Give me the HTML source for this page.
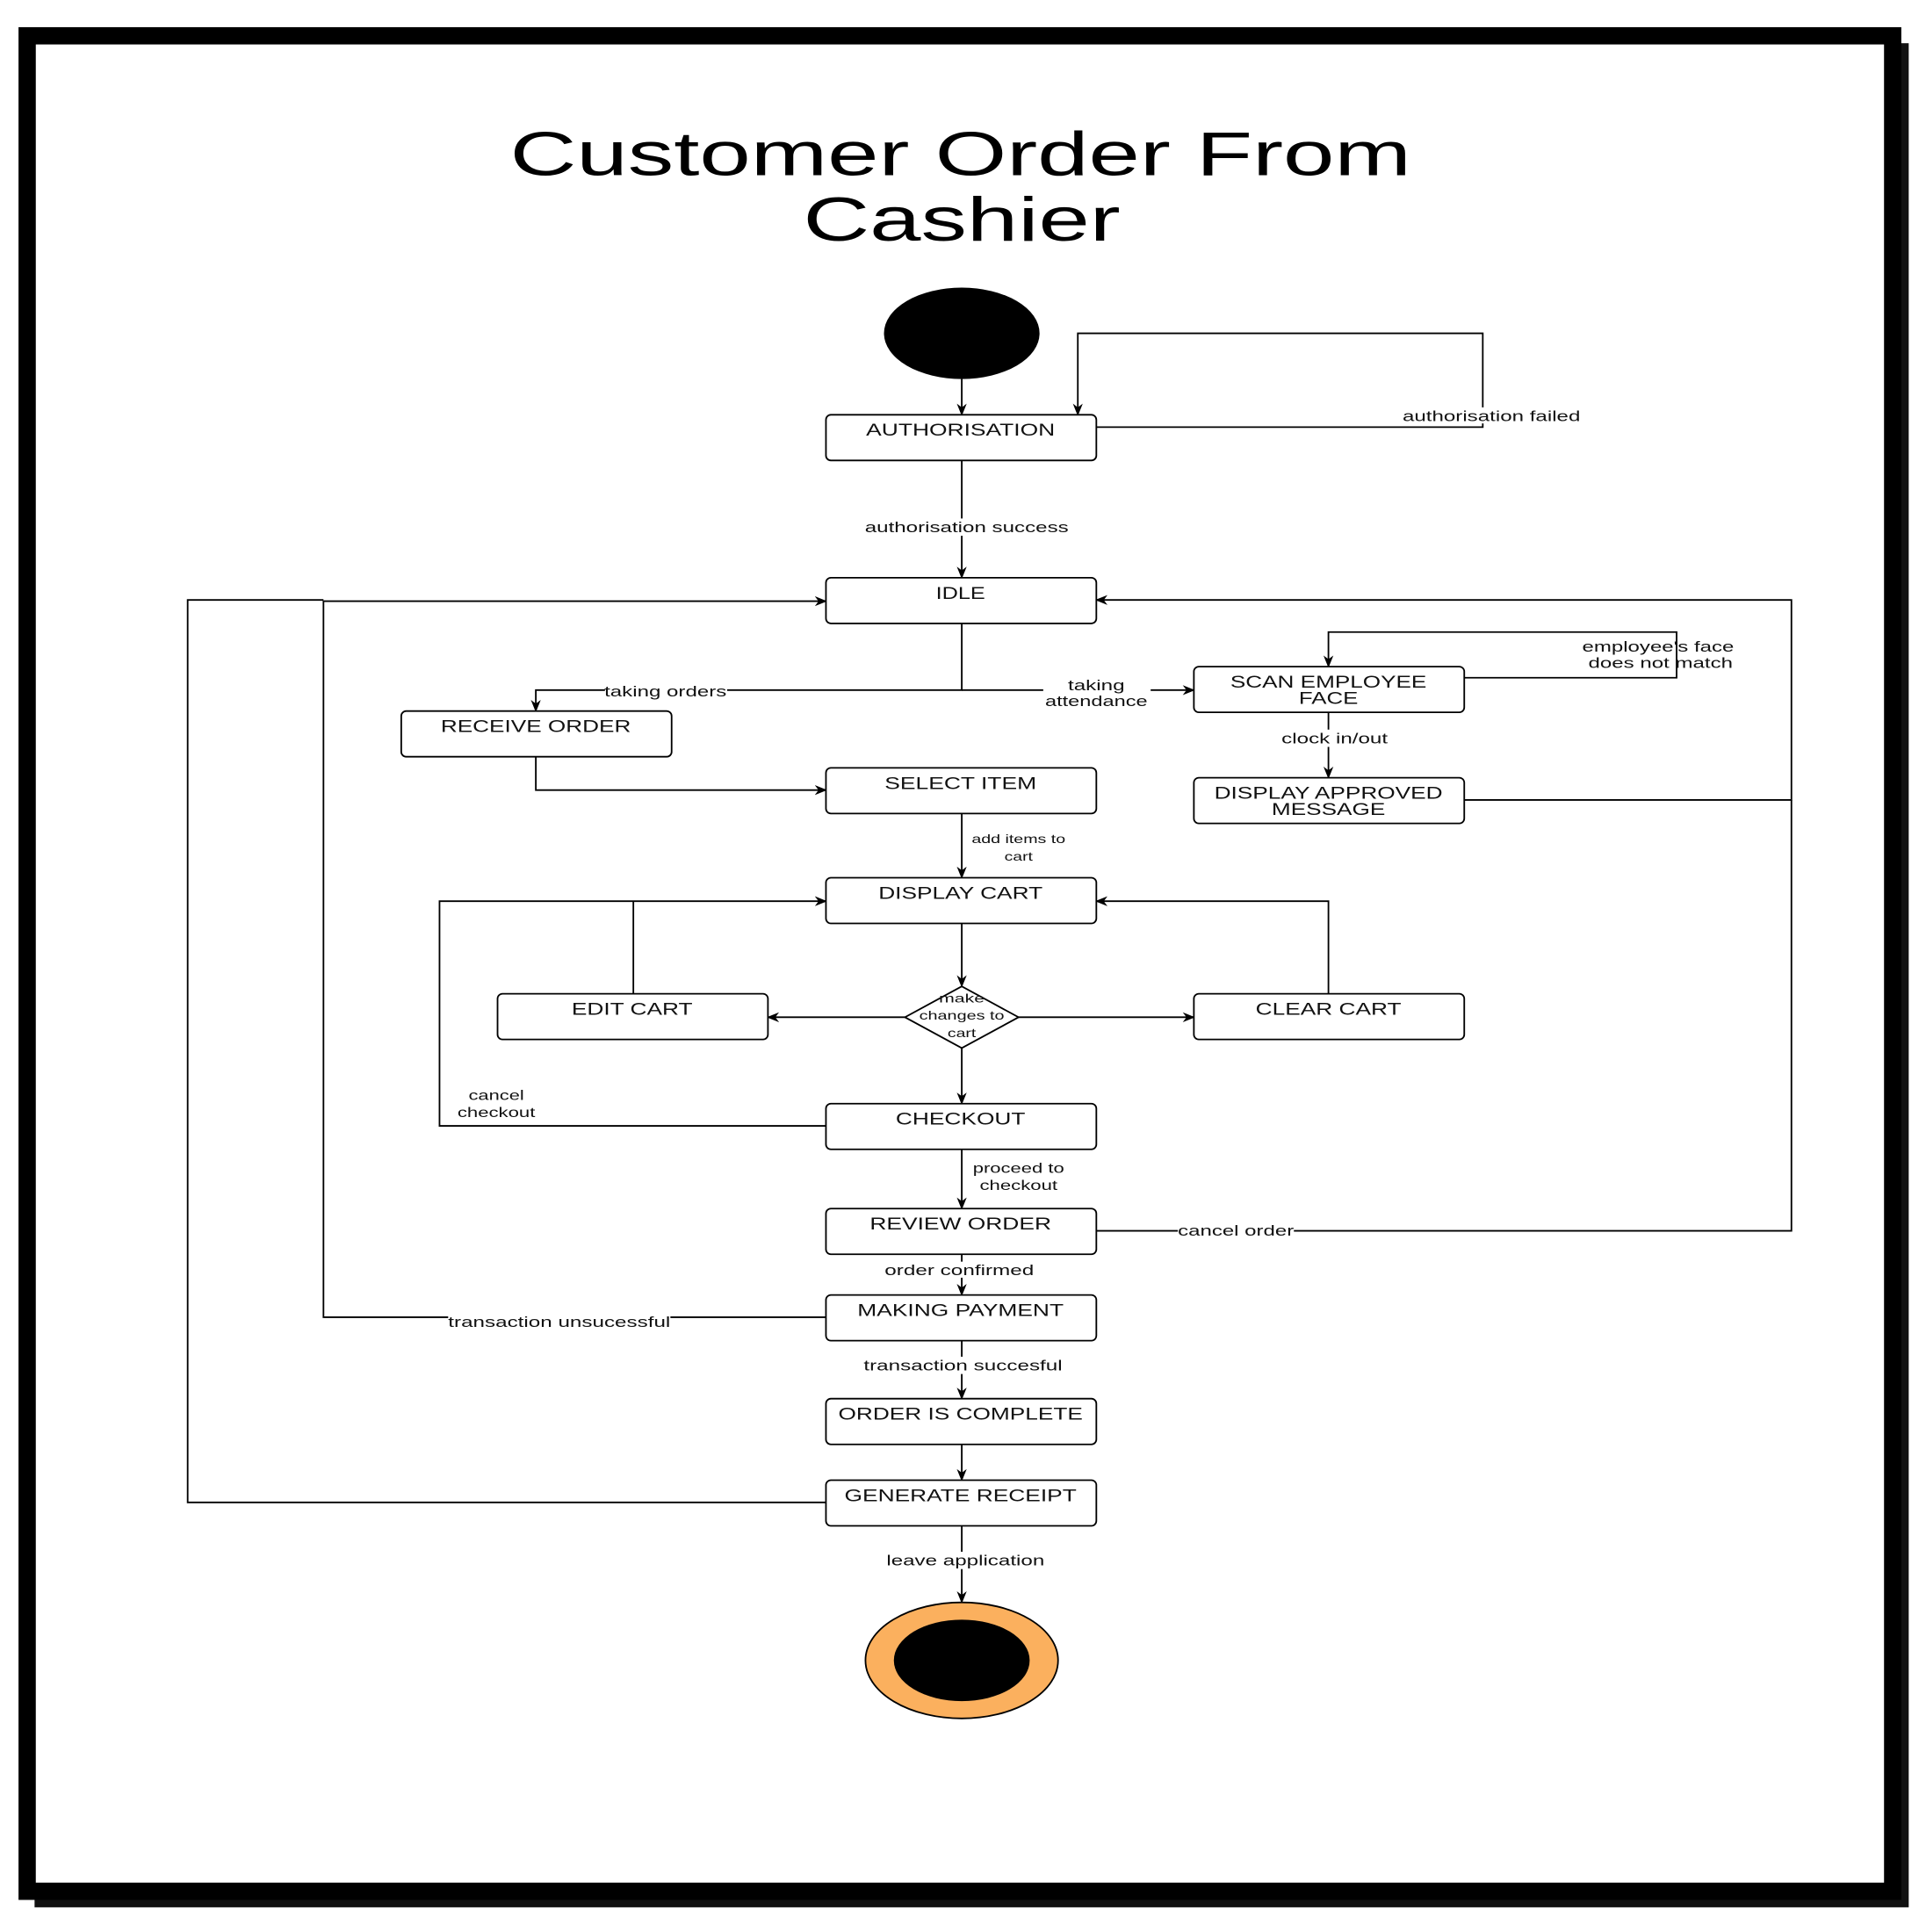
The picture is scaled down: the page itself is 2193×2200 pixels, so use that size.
<!DOCTYPE html>
<html><head><meta charset="utf-8"><style>html,body{margin:0;padding:0;background:#fff}svg{display:block}</style></head>
<body>
<svg width="2193" height="2200" viewBox="0 0 1560 1565" preserveAspectRatio="none" xmlns="http://www.w3.org/2000/svg" font-family="Liberation Sans, sans-serif">
<defs><marker id="a" markerWidth="10" markerHeight="10" refX="9" refY="5" orient="auto" markerUnits="userSpaceOnUse"><path d="M0,1 L10,5 L0,9 L3,5 z" fill="#000"/></marker></defs>
<rect x="0" y="0" width="1560" height="1565" fill="#fff"/>
<rect x="28" y="35" width="1518" height="1510" fill="#111"/>
<rect x="22" y="29" width="1511" height="1503" fill="none" stroke="#000" stroke-width="14"/>
<rect x="29" y="36" width="1497" height="1489" fill="#fff"/>
<g lengthAdjust="spacingAndGlyphs">
<text x="778" y="142" font-size="50" text-anchor="middle" textLength="730" lengthAdjust="spacingAndGlyphs">Customer Order From</text>
<text x="779" y="195" font-size="50" text-anchor="middle" textLength="257" lengthAdjust="spacingAndGlyphs">Cashier</text>
</g>
<ellipse cx="779" cy="270" rx="63" ry="37" fill="#000"/>
<g fill="none" stroke="#000" stroke-width="1.3">
<path d="M779,307 V336" marker-end="url(#a)"/>
<path d="M888,346 H1201 V270 H873 V336" marker-end="url(#a)"/>
<path d="M779,373 V468" marker-end="url(#a)"/>
<path d="M779,505 V559 H434 V576" marker-end="url(#a)"/>
<path d="M779,559 H845"/>
<path d="M932,559 H967" marker-end="url(#a)"/>
<path d="M1186,549 H1358 V512 H1076 V540" marker-end="url(#a)"/>
<path d="M1076,577 V630" marker-end="url(#a)"/>
<path d="M1186,648 H1451 V486 H888" marker-end="url(#a)"/>
<path d="M888,997 H1451 V648"/>
<path d="M434,613 V640 H669" marker-end="url(#a)"/>
<path d="M779,659 V711" marker-end="url(#a)"/>
<path d="M779,748 V799" marker-end="url(#a)"/>
<path d="M733,824 H622" marker-end="url(#a)"/>
<path d="M825,824 H967" marker-end="url(#a)"/>
<path d="M513,805 V730"/>
<path d="M669,912 H356 V730 H669" marker-end="url(#a)"/>
<path d="M1076,805 V730 H888" marker-end="url(#a)"/>
<path d="M779,849 V894" marker-end="url(#a)"/>
<path d="M779,931 V979" marker-end="url(#a)"/>
<path d="M779,1016 V1049" marker-end="url(#a)"/>
<path d="M669,1067 H262 V487 H669" marker-end="url(#a)"/>
<path d="M779,1086 V1133" marker-end="url(#a)"/>
<path d="M779,1170 V1199" marker-end="url(#a)"/>
<path d="M669,1217 H152 V486 H262"/>
<path d="M779,1236 V1298" marker-end="url(#a)"/>
</g>
<g fill="#fff" stroke="#000" stroke-width="1.3">
<rect x="669" y="336" width="219" height="37" rx="4"/>
<rect x="669" y="468" width="219" height="37" rx="4"/>
<rect x="325" y="576" width="219" height="37" rx="4"/>
<rect x="967" y="540" width="219" height="37" rx="4"/>
<rect x="669" y="622" width="219" height="37" rx="4"/>
<rect x="967" y="630" width="219" height="37" rx="4"/>
<rect x="669" y="711" width="219" height="37" rx="4"/>
<rect x="403" y="805" width="219" height="37" rx="4"/>
<rect x="967" y="805" width="219" height="37" rx="4"/>
<path d="M779,799 L825,824 L779,849 L733,824 Z"/>
<rect x="669" y="894" width="219" height="37" rx="4"/>
<rect x="669" y="979" width="219" height="37" rx="4"/>
<rect x="669" y="1049" width="219" height="37" rx="4"/>
<rect x="669" y="1133" width="219" height="37" rx="4"/>
<rect x="669" y="1199" width="219" height="37" rx="4"/>
</g>
<ellipse cx="779" cy="1345" rx="78" ry="47" fill="#FBB05E" stroke="#000" stroke-width="1.3"/>
<ellipse cx="779" cy="1345" rx="55" ry="33" fill="#000"/>
<g font-size="14" text-anchor="middle" fill="#111" lengthAdjust="spacingAndGlyphs">
<text x="778" y="353" textLength="153" lengthAdjust="spacingAndGlyphs">AUTHORISATION</text>
<text x="778" y="485" textLength="40" lengthAdjust="spacingAndGlyphs">IDLE</text>
<text x="434" y="593" textLength="154" lengthAdjust="spacingAndGlyphs">RECEIVE ORDER</text>
<text x="1076" y="557" textLength="159" lengthAdjust="spacingAndGlyphs">SCAN EMPLOYEE</text>
<text x="1076" y="570" textLength="48" lengthAdjust="spacingAndGlyphs">FACE</text>
<text x="778" y="639" textLength="123" lengthAdjust="spacingAndGlyphs">SELECT ITEM</text>
<text x="1076" y="647" textLength="185" lengthAdjust="spacingAndGlyphs">DISPLAY APPROVED</text>
<text x="1076" y="660" textLength="92" lengthAdjust="spacingAndGlyphs">MESSAGE</text>
<text x="778" y="728" textLength="133" lengthAdjust="spacingAndGlyphs">DISPLAY CART</text>
<text x="512" y="822" textLength="98" lengthAdjust="spacingAndGlyphs">EDIT CART</text>
<text x="1076" y="822" textLength="118" lengthAdjust="spacingAndGlyphs">CLEAR CART</text>
<text x="778" y="911" textLength="105" lengthAdjust="spacingAndGlyphs">CHECKOUT</text>
<text x="778" y="996" textLength="147" lengthAdjust="spacingAndGlyphs">REVIEW ORDER</text>
<text x="778" y="1066" textLength="167" lengthAdjust="spacingAndGlyphs">MAKING PAYMENT</text>
<text x="778" y="1150" textLength="198" lengthAdjust="spacingAndGlyphs">ORDER IS COMPLETE</text>
<text x="778" y="1216" textLength="188" lengthAdjust="spacingAndGlyphs">GENERATE RECEIPT</text>
</g>
<g fill="#fff">
<rect x="1136" y="330" width="144" height="13"/>
<rect x="701" y="420" width="165" height="14"/>
<rect x="490" y="553" width="99" height="13"/>
<rect x="1036" y="591" width="90" height="14"/>
<rect x="954" y="991" width="94" height="13"/>
<rect x="717" y="1022" width="121" height="13"/>
<rect x="363" y="1064" width="180" height="13"/>
<rect x="700" y="1099" width="161" height="14"/>
<rect x="718" y="1257" width="128" height="14"/>
</g>
<g font-size="12" text-anchor="middle" fill="#111">
<text x="1208" y="341" textLength="144" lengthAdjust="spacingAndGlyphs">authorisation failed</text>
<text x="783" y="431" textLength="165" lengthAdjust="spacingAndGlyphs">authorisation success</text>
<text x="539" y="564" textLength="99" lengthAdjust="spacingAndGlyphs">taking orders</text>
<text x="888" y="559" textLength="46" lengthAdjust="spacingAndGlyphs">taking</text>
<text x="888" y="572" textLength="83" lengthAdjust="spacingAndGlyphs">attendance</text>
<text x="1343" y="528" textLength="123" lengthAdjust="spacingAndGlyphs">employee's face</text>
<text x="1345" y="541" textLength="117" lengthAdjust="spacingAndGlyphs">does not match</text>
<text x="1081" y="602" textLength="86" lengthAdjust="spacingAndGlyphs">clock in/out</text>
<text x="825" y="683" font-size="10" textLength="76" lengthAdjust="spacingAndGlyphs">add items to</text>
<text x="825" y="697" font-size="10" textLength="23" lengthAdjust="spacingAndGlyphs">cart</text>
<text x="779" y="812" font-size="10" textLength="37" lengthAdjust="spacingAndGlyphs">make</text>
<text x="779" y="826" font-size="10" textLength="69" lengthAdjust="spacingAndGlyphs">changes to</text>
<text x="779" y="840" font-size="10" textLength="23" lengthAdjust="spacingAndGlyphs">cart</text>
<text x="402" y="891" font-size="11" textLength="45" lengthAdjust="spacingAndGlyphs">cancel</text>
<text x="402" y="905" font-size="11" textLength="63" lengthAdjust="spacingAndGlyphs">checkout</text>
<text x="825" y="950" font-size="11" textLength="74" lengthAdjust="spacingAndGlyphs">proceed to</text>
<text x="825" y="964" font-size="11" textLength="63" lengthAdjust="spacingAndGlyphs">checkout</text>
<text x="1001" y="1001" textLength="94" lengthAdjust="spacingAndGlyphs">cancel order</text>
<text x="777" y="1033" textLength="121" lengthAdjust="spacingAndGlyphs">order confirmed</text>
<text x="453" y="1075" textLength="180" lengthAdjust="spacingAndGlyphs">transaction unsucessful</text>
<text x="780" y="1110" textLength="161" lengthAdjust="spacingAndGlyphs">transaction succesful</text>
<text x="782" y="1268" textLength="128" lengthAdjust="spacingAndGlyphs">leave application</text>
</g>
</svg>
</body></html>
